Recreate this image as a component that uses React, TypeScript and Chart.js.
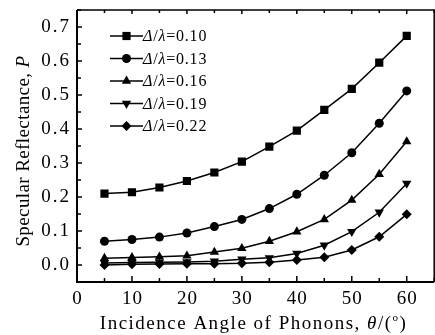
import React, { useEffect, useRef } from 'react';
import { Chart, registerables } from 'chart.js';

Chart.register(...registerables);

// ---------- data ----------
const angles = [5, 10, 15, 20, 25, 30, 35, 40, 45, 50, 55, 60];
const ratioLabels = ['0.10', '0.13', '0.16', '0.19', '0.22'];
const r010 = [0.21, 0.214, 0.228, 0.247, 0.272, 0.304, 0.348, 0.395, 0.456, 0.518, 0.595, 0.674];
const r013 = [0.07, 0.075, 0.082, 0.094, 0.113, 0.134, 0.166, 0.208, 0.264, 0.33, 0.417, 0.512];
const r016 = [0.02, 0.022, 0.024, 0.027, 0.038, 0.049, 0.07, 0.098, 0.134, 0.191, 0.267, 0.363];
const r019 = [0.006, 0.007, 0.008, 0.009, 0.011, 0.017, 0.021, 0.034, 0.058, 0.098, 0.155, 0.24];
const r022 = [0.0, 0.002, 0.003, 0.004, 0.004, 0.005, 0.008, 0.015, 0.023, 0.044, 0.083, 0.149];
const xTicks = [0, 10, 20, 30, 40, 50, 60];
const yTicks = [0.0, 0.1, 0.2, 0.3, 0.4, 0.5, 0.6, 0.7];

const seriesValues = [r010, r013, r016, r019, r022];
const pointStyles = ['rect', 'circle', 'triangle', 'triangle', 'rectRot'];
const pointRotations = [0, 0, 0, 180, 0];
const pointRadii = [5.8, 4.5, 5.4, 5.4, 5];

const FONT = '"Liberation Serif", "Times New Roman", serif';

type Run = { t: string; it?: boolean; sup?: boolean };

function runFont(r: Run, size: number) {
  const s = r.sup ? Math.round(size * 0.6) : size;
  return `${r.it ? 'italic ' : ''}${s}px ${FONT}`;
}

function drawRuns(ctx: CanvasRenderingContext2D, runs: Run[], x: number, y: number, align: 'left' | 'center' | 'right', size: number) {
  ctx.textAlign = 'left';
  const widths = runs.map((r) => {
    ctx.font = runFont(r, size);
    return ctx.measureText(r.t).width;
  });
  const total = widths.reduce((a, b) => a + b, 0);
  let cx = align === 'center' ? x - total / 2 : align === 'right' ? x - total : x;
  runs.forEach((r, i) => {
    ctx.font = runFont(r, size);
    ctx.fillText(r.t, cx, r.sup ? y - size * 0.42 : y);
    cx += widths[i];
  });
}

function drawMarker(ctx: CanvasRenderingContext2D, idx: number, x: number, y: number) {
  const style = pointStyles[idx];
  const r = pointRadii[idx];
  ctx.beginPath();
  if (style === 'rect') {
    const s = r * Math.SQRT1_2;
    ctx.rect(x - s, y - s, 2 * s, 2 * s);
  } else if (style === 'circle') {
    ctx.arc(x, y, r, 0, Math.PI * 2);
  } else if (style === 'triangle') {
    const dir = pointRotations[idx] === 180 ? -1 : 1;
    const h = r * 1.5;
    ctx.moveTo(x, y - dir * r);
    ctx.lineTo(x + r * 0.866, y - dir * (r - h));
    ctx.lineTo(x - r * 0.866, y - dir * (r - h));
    ctx.closePath();
  } else {
    ctx.moveTo(x, y - r);
    ctx.lineTo(x + r, y);
    ctx.lineTo(x, y + r);
    ctx.lineTo(x - r, y);
    ctx.closePath();
  }
  ctx.fill();
}

const framePlugin = {
  id: 'frame',
  afterDraw(chart: any) {
    const ctx: CanvasRenderingContext2D = chart.ctx;
    const { left, right, top, bottom } = chart.chartArea;
    const xs = chart.scales.x;
    const ys = chart.scales.y;
    ctx.save();
    ctx.strokeStyle = '#000';
    ctx.fillStyle = '#000';

    // frame
    ctx.lineWidth = 2;
    ctx.beginPath();
    ctx.moveTo(left, top);
    ctx.lineTo(left, bottom);
    ctx.lineTo(right, bottom);
    ctx.stroke();
    ctx.lineWidth = 1.5;
    ctx.beginPath();
    ctx.moveTo(left, top);
    ctx.lineTo(right, top);
    ctx.lineTo(right, bottom);
    ctx.stroke();

    // x ticks (inward)
    ctx.lineWidth = 1.5;
    for (let v = 0; v <= 65; v += 5) {
      const px = xs.getPixelForValue(v);
      const major = v % 10 === 0;
      ctx.beginPath();
      ctx.moveTo(px, bottom);
      ctx.lineTo(px, bottom - (major ? 6 : 4));
      ctx.moveTo(px, top);
      ctx.lineTo(px, top + (major ? 4 : 3));
      ctx.stroke();
    }
    // y ticks (inward)
    for (let k = -1; k <= 15; k++) {
      const v = k * 0.05;
      const py = ys.getPixelForValue(v);
      if (py < top - 0.5 || py > bottom + 0.5) continue;
      const major = k % 2 === 0;
      ctx.beginPath();
      ctx.moveTo(left, py);
      ctx.lineTo(left + (major ? 5 : 4), py);
      ctx.stroke();
    }

    // tick labels
    ctx.font = `19px ${FONT}`;
    (ctx as any).letterSpacing = '1px';
    ctx.textBaseline = 'alphabetic';
    ctx.textAlign = 'center';
    xTicks.forEach((v) => {
      ctx.fillText(String(v), xs.getPixelForValue(v) + 0.5, bottom + 22);
    });
    ctx.textAlign = 'right';
    ctx.textBaseline = 'middle';
    (ctx as any).letterSpacing = '2px';
    yTicks.forEach((v) => {
      ctx.fillText(v.toFixed(1), left - 6, ys.getPixelForValue(v) + 0.5);
    });

    // axis titles
    ctx.textBaseline = 'alphabetic';
    (ctx as any).letterSpacing = '1.5px';
    drawRuns(
      ctx,
      [
        { t: 'Incidence Angle of Phonons, ' },
        { t: 'θ', it: true },
        { t: '/(' },
        { t: 'o', sup: true },
        { t: ')' },
      ],
      (left + right) / 2 - 2,
      bottom + 47,
      'center',
      19
    );
    (ctx as any).letterSpacing = '0.4px';
    ctx.save();
    ctx.translate(29, 151);
    ctx.rotate(-Math.PI / 2);
    drawRuns(ctx, [{ t: 'Specular Reflectance, ' }, { t: 'P', it: true }], 0, 0, 'center', 19);
    ctx.restore();

    // legend
    (ctx as any).letterSpacing = '0.8px';
    ctx.textBaseline = 'middle';
    ratioLabels.forEach((lab, i) => {
      const y = 36 + i * 22.5;
      ctx.lineWidth = 1.5;
      ctx.beginPath();
      ctx.moveTo(110, y);
      ctx.lineTo(143, y);
      ctx.stroke();
      drawMarker(ctx, i, 126.5, y);
      drawRuns(
        ctx,
        [{ t: 'Δ', it: true }, { t: '/' }, { t: 'λ', it: true }, { t: '=' + lab }],
        143,
        y + 1,
        'left',
        16
      );
    });
    ctx.restore();
  },
};

export default function App() {
  const ref = useRef<HTMLCanvasElement | null>(null);
  useEffect(() => {
    if (!ref.current) return;
    const chart = new Chart(ref.current, {
      type: 'line',
      data: {
        datasets: seriesValues.map((vals, i) => ({
          label: ratioLabels[i],
          data: angles.map((a, j) => ({ x: a, y: vals[j] })),
          borderColor: '#000',
          backgroundColor: '#000',
          borderWidth: 1.5,
          pointStyle: pointStyles[i] as any,
          pointRotation: pointRotations[i],
          pointRadius: pointRadii[i],
          pointBorderWidth: 0,
          pointBackgroundColor: '#000',
          tension: 0,
          fill: false,
        })),
      },
      options: {
        animation: false,
        responsive: false,
        devicePixelRatio: 1,
        maintainAspectRatio: false,
        layout: { padding: { left: 77, top: 10, right: 2, bottom: 53 } },
        plugins: { legend: { display: false }, tooltip: { enabled: false } },
        scales: {
          x: { type: 'linear', min: 0, max: 65, display: false },
          y: { type: 'linear', min: -0.05, max: 0.75, display: false },
        },
      },
      plugins: [framePlugin],
    });
    return () => chart.destroy();
  }, []);
  return (
    <div style={{ position: 'fixed', left: 0, top: 0, width: 435, height: 335, overflow: 'hidden', background: '#fff' }}>
      <canvas ref={ref} width={440} height={335} style={{ display: 'block' }} />
    </div>
  );
}
